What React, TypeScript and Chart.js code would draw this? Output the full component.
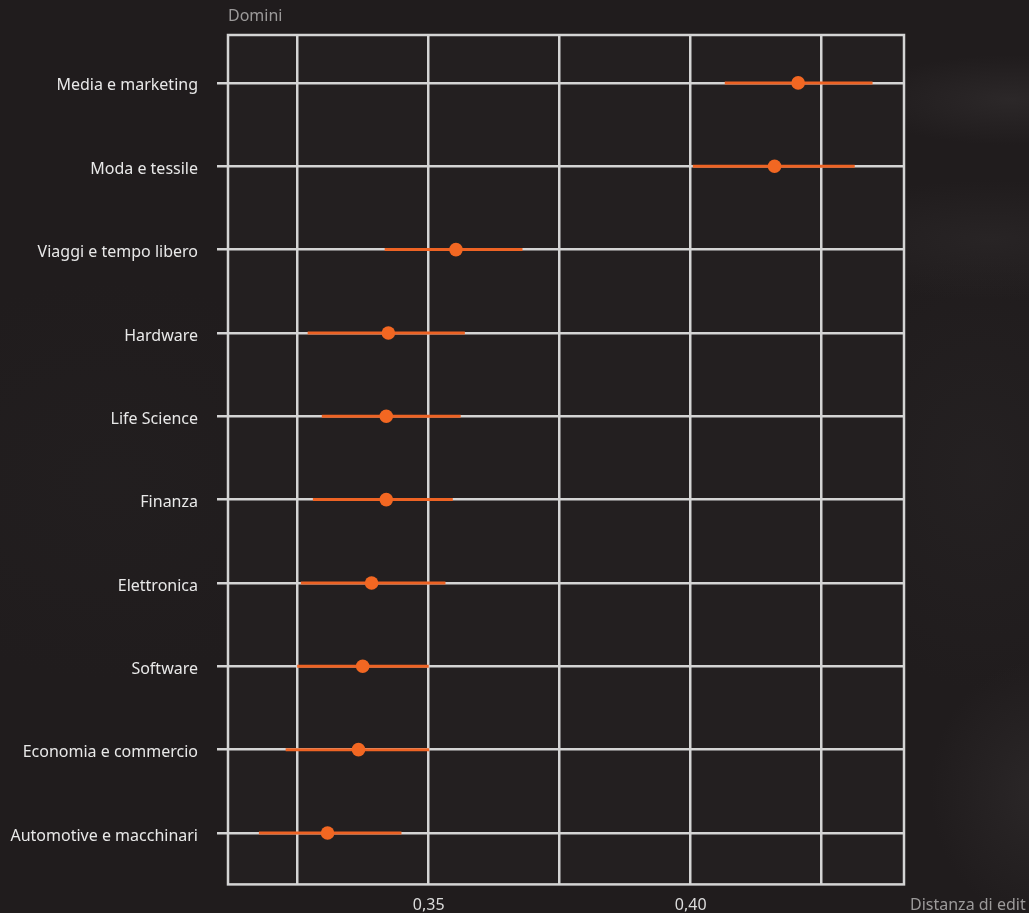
import { useEffect, useRef } from "react";
import { Chart, registerables } from "chart.js";

Chart.register(...registerables);

// Mean edit distance per domain, with lower / upper bounds of the interval
const categories = [
  "Media e marketing",
  "Moda e tessile",
  "Viaggi e tempo libero",
  "Hardware",
  "Life Science",
  "Finanza",
  "Elettronica",
  "Software",
  "Economia e commercio",
  "Automotive e macchinari",
];
const means = [0.4205, 0.416, 0.3552, 0.3423, 0.3419, 0.3419, 0.3391, 0.3374, 0.3366, 0.3307];
const lower = [0.4065, 0.4004, 0.3416, 0.3269, 0.3296, 0.3279, 0.3256, 0.3249, 0.3227, 0.3176];
const upper = [0.4347, 0.4313, 0.3679, 0.3569, 0.3561, 0.3546, 0.3532, 0.35, 0.3501, 0.3448];

// Vertical grid positions; only some of them carry a label
const xGridValues = [0.325, 0.35, 0.375, 0.4, 0.425];
const xLabelledValues = [0.35, 0.4];

const ORANGE = "#F26722";
const BAR_ORANGE = "#EE6324";
const GRID = "#d4d4d4";
const PLOT_BG = "#231f20";
const FONT = "'Noto Sans', 'Open Sans', sans-serif";

const framePlugin = {
  id: "plotFrame",
  beforeDraw(chart: any) {
    const { ctx, chartArea: a } = chart;
    ctx.save();
    ctx.fillStyle = PLOT_BG;
    ctx.fillRect(a.left, a.top, a.right - a.left, a.bottom - a.top);
    ctx.restore();
  },
  beforeDatasetsDraw(chart: any) {
    const { ctx, chartArea: a } = chart;
    ctx.save();
    ctx.strokeStyle = GRID;
    ctx.lineWidth = 2.5;
    ctx.strokeRect(a.left, a.top, a.right - a.left, a.bottom - a.top);
    ctx.restore();
  },
  afterDraw(chart: any) {
    const { ctx, chartArea: a } = chart;
    ctx.save();
    ctx.font = `16px ${FONT}`;
    ctx.fillStyle = "#9c9a9a";
    ctx.textBaseline = "middle";
    ctx.textAlign = "left";
    ctx.fillText("Domini", a.left, 16);
    ctx.fillText("Distanza di edit", a.right + 6, 905);
    ctx.restore();
  },
};

export default function App() {
  const canvasRef = useRef<HTMLCanvasElement | null>(null);

  useEffect(() => {
    if (!canvasRef.current) return;

    const intervalSets = categories.map((_, i) => ({
      type: "scatter" as const,
      data: [
        { x: lower[i], y: i },
        { x: upper[i], y: i },
      ],
      showLine: true,
      borderColor: BAR_ORANGE,
      borderWidth: 3,
      pointRadius: 0,
      pointHoverRadius: 0,
    }));

    const chart = new Chart(canvasRef.current, {
      type: "scatter",
      data: {
        datasets: [
          {
            data: means.map((m, i) => ({ x: m, y: i })),
            backgroundColor: ORANGE,
            borderWidth: 0,
            pointRadius: 6.8,
            pointHoverRadius: 6.8,
          },
          ...intervalSets,
        ],
      },
      options: {
        animation: false,
        responsive: false,
        devicePixelRatio: 1,
        layout: { padding: { top: 35, right: 125, left: 0, bottom: 0 } },
        plugins: {
          legend: { display: false },
          tooltip: { enabled: false },
        },
        scales: {
          x: {
            type: "linear",
            position: "bottom",
            min: 0.3117,
            max: 0.4407,
            afterBuildTicks: (scale: any) => {
              scale.ticks = xGridValues.map((v) => ({ value: v }));
            },
            afterFit: (scale: any) => {
              scale.height = 27;
            },
            ticks: {
              autoSkip: false,
              maxRotation: 0,
              padding: 11,
              color: "#dcdcdc",
              font: { family: FONT, size: 16 },
              callback: (value: any) =>
                xLabelledValues.some((v) => Math.abs(v - value) < 1e-9)
                  ? Number(value).toFixed(2).replace(".", ",")
                  : "",
            },
            grid: { color: GRID, lineWidth: 2.5, drawTicks: false },
            border: { display: false },
          },
          y: {
            type: "linear",
            reverse: true,
            min: -0.575,
            max: 9.617,
            afterBuildTicks: (scale: any) => {
              scale.ticks = categories.map((_, i) => ({ value: i }));
            },
            afterFit: (scale: any) => {
              scale.width = 228;
            },
            ticks: {
              autoSkip: false,
              padding: 19,
              labelOffset: 3,
              color: "#e8e8e8",
              font: { family: FONT, size: 16 },
              callback: (value: any) => categories[Math.round(Number(value))] ?? "",
            },
            grid: { color: GRID, lineWidth: 2.5, tickLength: 11, tickColor: GRID },
            border: { display: false },
          },
        },
      },
      plugins: [framePlugin],
    });

    return () => chart.destroy();
  }, []);

  return (
    <div
      style={{
        position: "absolute",
        left: 0,
        top: 0,
        width: 1029,
        height: 913,
        overflow: "hidden",
        background: [
          "radial-gradient(ellipse 150px 45px at 1010px 100px, rgba(58,54,55,0.45), transparent)",
          "radial-gradient(ellipse 190px 60px at 990px 240px, rgba(52,48,49,0.4), transparent)",
          "radial-gradient(ellipse 110px 130px at 1040px 790px, rgba(56,52,53,0.45), transparent)",
          "radial-gradient(ellipse 160px 220px at 980px 470px, rgba(44,41,42,0.35), transparent)",
          "radial-gradient(ellipse 260px 200px at 110px 480px, rgba(38,35,36,0.3), transparent)",
          "#201c1d",
        ].join(", "),
      }}
    >
      <canvas ref={canvasRef} width={1029} height={913} style={{ display: "block" }} />
    </div>
  );
}
